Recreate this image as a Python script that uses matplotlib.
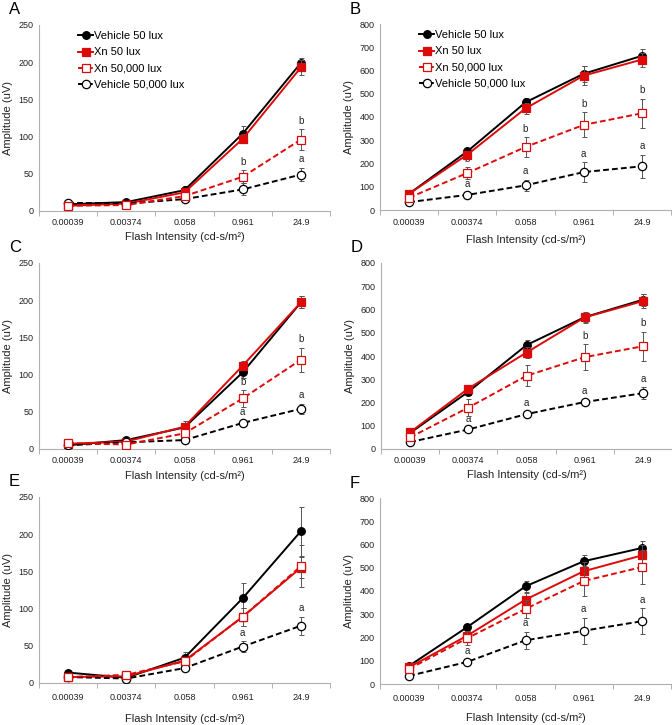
import numpy as np
import matplotlib.pyplot as plt
from matplotlib.ticker import MultipleLocator, FixedLocator

plt.rcParams['font.family'] = ['Liberation Sans', 'DejaVu Sans']

intensities = ['0.00039', '0.00374', '0.058', '0.961', '24.9']
panels = ['A', 'B', 'C', 'D', 'E', 'F']
ymax = [250, 800, 250, 800, 250, 800]
ystep = [50, 100, 50, 100, 50, 100]

# mean amplitudes (uV), one row per panel A..F
veh50 = [[9, 12, 28, 104, 199],
         [70, 252, 463, 586, 663],
         [5, 12, 29, 103, 197],
         [69, 246, 447, 567, 642],
         [14, 7, 34, 114, 204],
         [78, 245, 420, 528, 585]]
xn50 = [[7, 10, 25, 97, 193],
        [70, 238, 437, 578, 647],
        [7, 10, 30, 112, 197],
        [72, 260, 415, 566, 636],
        [8, 9, 30, 89, 155],
        [72, 208, 363, 485, 553]]
xn50k = [[7, 8, 20, 46, 96],
         [53, 159, 271, 366, 416],
         [8, 6, 21, 68, 120],
         [50, 178, 315, 395, 442],
         [8, 11, 29, 89, 157],
         [65, 197, 323, 443, 503]]
veh50k = [[11, 10, 16, 29, 49],
          [34, 65, 106, 163, 188],
          [5, 9, 12, 35, 54],
          [30, 84, 150, 202, 240],
          [8, 6, 20, 49, 77],
          [35, 95, 188, 229, 270]]

# error bars
veh50_err = [[2, 2, 5, 10, 7],
             [10, 15, 20, 35, 30],
             [1, 2, 4, 8, 8],
             [8, 15, 20, 20, 25],
             [2, 2, 8, 21, 33],
             [8, 15, 25, 28, 32]]
xn50_err = [[1, 2, 4, 6, 10],
            [8, 15, 25, 40, 30],
            [1, 2, 8, 6, 8],
            [8, 15, 25, 25, 30],
            [1, 2, 5, 12, 14],
            [8, 15, 30, 40, 45]]
xn50k_err = [[1, 1, 3, 9, 14],
             [8, 25, 43, 54, 63],
             [1, 1, 3, 11, 16],
             [8, 35, 45, 55, 62],
             [1, 2, 5, 12, 28],
             [8, 30, 40, 65, 72]]
veh50k_err = [[2, 2, 3, 8, 9],
              [5, 10, 25, 42, 50],
              [1, 1, 2, 3, 7],
              [5, 8, 10, 10, 25],
              [1, 1, 3, 7, 12],
              [5, 10, 37, 55, 57]]

# significance letters: (series, point index, letter)
letters = [
    [('xn50k', 3, 'b'), ('xn50k', 4, 'b'), ('veh50k', 4, 'a')],
    [('xn50k', 1, 'b'), ('xn50k', 2, 'b'), ('xn50k', 3, 'b'), ('xn50k', 4, 'b'),
     ('veh50k', 1, 'a'), ('veh50k', 2, 'a'), ('veh50k', 3, 'a'), ('veh50k', 4, 'a')],
    [('xn50k', 3, 'b'), ('xn50k', 4, 'b'), ('veh50k', 3, 'a'), ('veh50k', 4, 'a')],
    [('veh50k', 1, 'a'), ('veh50k', 2, 'a'), ('xn50k', 3, 'b'), ('xn50k', 4, 'b'),
     ('veh50k', 3, 'a'), ('veh50k', 4, 'a')],
    [('veh50k', 3, 'a'), ('veh50k', 4, 'a')],
    [('veh50k', 1, 'a'), ('veh50k', 2, 'a'), ('veh50k', 3, 'a'), ('veh50k', 4, 'a')],
]

red = '#dd0a0a'
styles = {
    'veh50': dict(label='Vehicle 50 lux', color='black', ls='-', marker='o',
                  mfc='black', mec='black', ms=5.5, z=3),
    'xn50': dict(label='Xn 50 lux', color=red, ls='-', marker='s',
                 mfc=red, mec=red, ms=5.5, z=4),
    'veh50k': dict(label='Vehicle 50,000 lux', color='black', ls='--', marker='o',
                   mfc='white', mec='black', ms=6, z=5),
    'xn50k': dict(label='Xn 50,000 lux', color=red, ls='--', marker='s',
                  mfc='white', mec=red, ms=5.5, z=6),
}
means = {'veh50': veh50, 'xn50': xn50, 'xn50k': xn50k, 'veh50k': veh50k}
errs = {'veh50': veh50_err, 'xn50': xn50_err, 'xn50k': xn50k_err, 'veh50k': veh50k_err}

fig = plt.figure(figsize=(6.72, 7.25), dpi=100)
W, H = 672., 725.
boxes = [(39, 25), (380, 24), (39, 263), (381, 263), (39, 497), (380, 498)]
# pixel gap from x axis to the x label centre / tick label pad
xlab_gap = [26, 30, 27, 26, 36, 34]
tick_pad = [5, 6, 5, 5, 7, 7]
x = np.arange(len(intensities))

for p, (px, py) in enumerate(boxes):
    ax = fig.add_axes([px / W, 1 - (py + 186) / H, 291 / W, 186 / H])
    handles = {}
    for key in ['veh50', 'xn50', 'veh50k', 'xn50k']:
        s = styles[key]
        m = np.array(means[key][p])
        e = np.array(errs[key][p])
        ax.errorbar(x, m, yerr=e, fmt='none', ecolor='#555555', elinewidth=0.7,
                    capsize=1.8, capthick=0.7, zorder=s['z'] - 0.5)
        h, = ax.plot(x, m, color=s['color'], ls=s['ls'], lw=1.4,
                     marker=s['marker'], mfc=s['mfc'], mec=s['mec'], mew=0.9,
                     ms=s['ms'], label=s['label'], zorder=s['z'],
                     dashes=(3, 1.6) if s['ls'] == '--' else (None, None))
        handles[key] = h

    for key, i, txt in letters[p]:
        top = means[key][p][i] + errs[key][p][i]
        ax.annotate(txt, (x[i], top), xytext=(0, 2.5), textcoords='offset points',
                    ha='center', va='bottom', fontsize=7, color='#222222')

    ax.set_xlim(-0.5, 4.5)
    ax.set_ylim(0, ymax[p])
    ax.yaxis.set_major_locator(MultipleLocator(ystep[p]))
    ax.set_xticks(x)
    ax.set_xticklabels(intensities)
    ax.xaxis.set_minor_locator(FixedLocator(np.arange(-0.5, 5, 1)))
    ax.tick_params(axis='x', which='major', length=0, pad=tick_pad[p],
                   labelsize=6.5, labelcolor='#222222')
    ax.tick_params(axis='x', which='minor', length=3.5, color='#b0b0b0', width=0.7)
    ax.tick_params(axis='y', length=0, pad=4, labelsize=6.5, labelcolor='#222222')
    for sp in ['top', 'right']:
        ax.spines[sp].set_visible(False)
    for sp in ['left', 'bottom']:
        ax.spines[sp].set_color('#b0b0b0')
        ax.spines[sp].set_linewidth(0.8)

    ax.set_ylabel('Amplitude (uV)', fontsize=8, color='#222222')
    ax.yaxis.set_label_coords(-26 / 291, 0.5)
    ax.set_xlabel('Flash Intensity (cd-s/m²)', fontsize=8, color='#222222',
                  va='center')
    ax.xaxis.set_label_coords(0.5, -xlab_gap[p] / 186)

    fig.text((px - 30) / W, 1 - (py - 15) / H, panels[p], fontsize=12,
             ha='left', va='center')

    if p < 2:
        order = ['veh50', 'xn50', 'xn50k', 'veh50k']
        ax.legend([handles[k] for k in order], [styles[k]['label'] for k in order],
                  loc='upper left', bbox_to_anchor=(0.12, 0.99), frameon=False,
                  fontsize=8, handlelength=1.3, handletextpad=0.1,
                  labelspacing=0.55, borderaxespad=0)

fig.savefig('out.png', dpi=100)
